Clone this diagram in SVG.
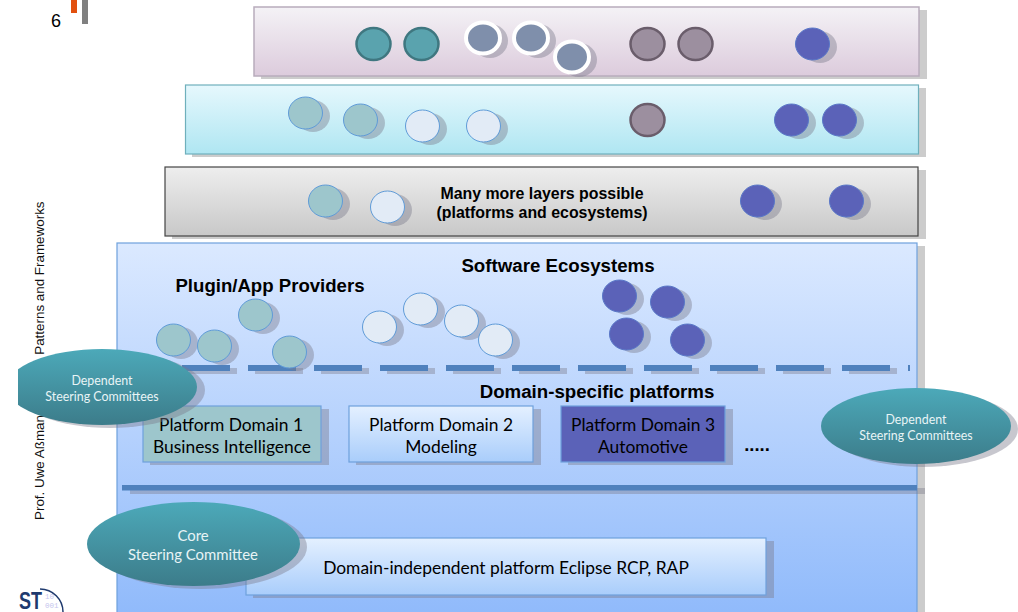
<svg xmlns="http://www.w3.org/2000/svg" width="1018" height="612" viewBox="0 0 1018 612">
<style>
.sh{fill:#7a7a8a;fill-opacity:.42}
ellipse.n{rx:17px;ry:16px}
.t{stroke:#3f7780;stroke-width:2.5;fill:#5aa3ae}
.w{stroke:#fff;stroke-width:4;fill:#7f8fab}
.g{stroke:#6a5d6b;stroke-width:2.5;fill:#9c8f9f}
.b{stroke:#5a78c8;stroke-width:1;fill:#5b62b8}
.lt{stroke:#5f9bd8;stroke-width:1;fill:#9dc6cc}
.lw{stroke:#5f9bd8;stroke-width:1;fill:#e2ebf6}
.h{font-family:"Liberation Sans",Arial,sans-serif;font-weight:bold;fill:#000;text-anchor:middle}
.c{font-family:Lato,"Open Sans",sans-serif;fill:#000;text-anchor:middle;font-size:17.4px}
.e{font-family:Lato,"Open Sans",sans-serif;fill:#e8f4f6;text-anchor:middle}
.d{fill:#4f81bd}
.ds{fill:#7a7a8a;fill-opacity:.4}
</style>
<defs>
<linearGradient id="g1" x1="0" y1="0" x2="0" y2="1"><stop offset="0" stop-color="#f4f2f6"/><stop offset="1" stop-color="#dccbdc"/></linearGradient>
<linearGradient id="g2" x1="0" y1="0" x2="0" y2="1"><stop offset="0" stop-color="#e6f8fd"/><stop offset="1" stop-color="#afe6f2"/></linearGradient>
<linearGradient id="g3" x1="0" y1="0" x2="0" y2="1"><stop offset="0" stop-color="#eeeeee"/><stop offset="1" stop-color="#c8c8c8"/></linearGradient>
<linearGradient id="g4" x1="0" y1="0" x2="0" y2="1"><stop offset="0" stop-color="#dbe9ff"/><stop offset="1" stop-color="#90bafb"/></linearGradient>
<linearGradient id="g5" x1="0" y1="0" x2="0" y2="1"><stop offset="0" stop-color="#e4f0ff"/><stop offset="1" stop-color="#a9cdfb"/></linearGradient>
<linearGradient id="g6" x1="0" y1="0" x2="0" y2="1"><stop offset="0" stop-color="#4ca9b9"/><stop offset="1" stop-color="#3c7c8a"/></linearGradient>
<clipPath id="cl"><rect x="18" y="330" width="220" height="110"/></clipPath>
<clipPath id="logo"><rect x="15" y="585" width="60" height="27"/></clipPath>
</defs>

<g id="page-furniture">
<text x="56" y="27" font-family="'Liberation Sans',Arial,sans-serif" font-size="18" text-anchor="middle">6</text>
<rect x="71" y="0" width="6" height="13" fill="#e2500f"/>
<rect x="82" y="0" width="6" height="24" fill="#808080"/>
<text transform="translate(44 520) rotate(-90)" font-family="'Liberation Sans',Arial,sans-serif" font-size="13.400" fill="#111">Prof. Uwe Aßmann, Design Patterns and Frameworks</text>
</g>

<g id="layer-1">
<rect x="261" y="10" width="666" height="69" fill="#ccc"/>
<rect x="254" y="7" width="665" height="69" fill="url(#g1)" stroke="#b8acbc" stroke-width="1.500"/>
</g>
<g id="layer-2">
<rect x="192" y="88" width="734" height="69" fill="#ccc"/>
<rect x="185.500" y="85" width="733" height="69" fill="url(#g2)" stroke="#6fb0bc" stroke-width="1.200"/>
</g>
<g id="layer-3">
<rect x="172" y="170" width="754" height="69" fill="#ccc"/>
<rect x="165" y="167" width="753" height="69" fill="url(#g3)" stroke="#444" stroke-width="1.200"/>
<text class="h" x="542" y="199" font-size="15.900">Many more layers possible</text>
<text class="h" x="542" y="218" font-size="15.900">(platforms and ecosystems)</text>
</g>
<g id="ecosystem">
<rect x="125" y="246" width="800" height="366" fill="#ccc"/>
<rect x="117" y="243" width="800" height="372" fill="url(#g4)" stroke="#6ea1dc" stroke-width="1.200"/>
<text class="h" x="558" y="272" font-size="18.700">Software Ecosystems</text>
<text class="h" x="270" y="292" font-size="18.600">Plugin/App Providers</text>
<text class="h" x="597" y="398" font-size="18.700">Domain-specific platforms</text>
<text class="h" x="757" y="451" font-size="18.500">.....</text>
</g>

<g id="connectors">
<path class="ds" d="M189 368h48v6h-48zM255 368h48v6h-48zM321 368h48v6h-48zM387 368h48v6h-48zM453 368h48v6h-48zM519 368h48v6h-48zM585 368h48v6h-48zM651 368h48v6h-48zM717 368h48v6h-48zM783 368h48v6h-48zM849 368h48v6h-48z"/>
<path class="d" d="M182 365h48v6h-48zM248 365h48v6h-48zM314 365h48v6h-48zM380 365h48v6h-48zM446 365h48v6h-48zM512 365h48v6h-48zM578 365h48v6h-48zM644 365h48v6h-48zM710 365h48v6h-48zM776 365h48v6h-48zM842 365h48v6h-48zM908 365h2v6h-2z"/>
<rect class="ds" x="130" y="488" width="795" height="6"/>
<rect class="d" x="122" y="485" width="795" height="5.500"/>
</g>

<g id="layer1-nodes">
<ellipse class="t n" cx="373.500" cy="44"/>
<ellipse class="t n" cx="421.500" cy="44"/>
<ellipse class="sh" cx="490" cy="41" rx="18" ry="17"/><ellipse class="w" cx="483" cy="38" rx="17" ry="15.500"/>
<ellipse class="sh" cx="538" cy="41" rx="18" ry="17"/><ellipse class="w" cx="531" cy="38" rx="17" ry="15.500"/>
<ellipse class="sh" cx="579" cy="60" rx="18" ry="17"/><ellipse class="w" cx="572" cy="57" rx="17" ry="15.500"/>
<ellipse class="g n" cx="647.500" cy="44"/>
<ellipse class="g n" cx="695.500" cy="44"/>
<ellipse class="sh n" cx="820" cy="47"/><ellipse class="b n" cx="812.500" cy="44"/>
</g>
<g id="layer2-nodes">
<ellipse class="sh n" cx="313" cy="116"/><ellipse class="lt n" cx="305.500" cy="113"/>
<ellipse class="sh n" cx="368" cy="123"/><ellipse class="lt n" cx="360.500" cy="120"/>
<ellipse class="sh n" cx="430" cy="129"/><ellipse class="lw n" cx="422.500" cy="126"/>
<ellipse class="sh n" cx="491" cy="129"/><ellipse class="lw n" cx="483.500" cy="126"/>
<ellipse class="g n" cx="647.500" cy="120"/>
<ellipse class="sh n" cx="799" cy="123"/><ellipse class="b n" cx="791.500" cy="120"/>
<ellipse class="sh n" cx="847" cy="123"/><ellipse class="b n" cx="839.500" cy="120"/>
</g>
<g id="layer3-nodes">
<ellipse class="sh n" cx="333" cy="204"/><ellipse class="lt n" cx="325.500" cy="201"/>
<ellipse class="sh n" cx="395" cy="210"/><ellipse class="lw n" cx="387.500" cy="207"/>
<ellipse class="sh n" cx="765" cy="204"/><ellipse class="b n" cx="757.500" cy="201"/>
<ellipse class="sh n" cx="854" cy="204"/><ellipse class="b n" cx="846.500" cy="201"/>
</g>
<g id="plugin-nodes">
<ellipse class="sh n" cx="181" cy="343"/><ellipse class="lt n" cx="173.500" cy="340"/>
<ellipse class="sh n" cx="222" cy="349"/><ellipse class="lt n" cx="214.500" cy="346"/>
<ellipse class="sh n" cx="263" cy="318"/><ellipse class="lt n" cx="255.500" cy="315"/>
<ellipse class="sh n" cx="297" cy="355"/><ellipse class="lt n" cx="289.500" cy="352"/>
<ellipse class="sh n" cx="387" cy="330"/><ellipse class="lw n" cx="379.500" cy="327"/>
<ellipse class="sh n" cx="428" cy="312"/><ellipse class="lw n" cx="420.500" cy="309"/>
<ellipse class="sh n" cx="469" cy="324"/><ellipse class="lw n" cx="461.500" cy="321"/>
<ellipse class="sh n" cx="503" cy="343"/><ellipse class="lw n" cx="495.500" cy="340"/>
<ellipse class="sh n" cx="627" cy="299"/><ellipse class="b n" cx="619.500" cy="296"/>
<ellipse class="sh n" cx="675" cy="305"/><ellipse class="b n" cx="667.500" cy="302"/>
<ellipse class="sh n" cx="634" cy="337"/><ellipse class="b n" cx="626.500" cy="334"/>
<ellipse class="sh n" cx="695" cy="343"/><ellipse class="b n" cx="687.500" cy="340"/>
</g>

<g id="platform-1">
<rect class="sh" x="150" y="409" width="179" height="56"/>
<rect x="143" y="406" width="178" height="56" fill="#9dc6cc" stroke="#6ea1dc" stroke-width="1.200"/>
<text class="c" x="231" y="431">Platform Domain 1</text>
<text class="c" x="232" y="453">Business Intelligence</text>
</g>
<g id="platform-2">
<rect class="sh" x="356" y="409" width="185" height="56"/>
<rect x="349" y="406" width="184" height="56" fill="url(#g5)" stroke="#6ea1dc" stroke-width="1.200"/>
<text class="c" x="441" y="431">Platform Domain 2</text>
<text class="c" x="441" y="453">Modeling</text>
</g>
<g id="platform-3">
<rect class="sh" x="568" y="409" width="165" height="56"/>
<rect x="561" y="406" width="164" height="56" fill="#5b62b8" stroke="#6ea1dc" stroke-width="1.200"/>
<text class="c" x="643" y="431">Platform Domain 3</text>
<text class="c" x="643" y="453">Automotive</text>
</g>
<g id="core-platform">
<rect class="sh" x="253" y="541" width="521" height="57"/>
<rect x="246" y="538" width="520" height="57" fill="url(#g5)" stroke="#6ea1dc" stroke-width="1.200"/>
<text class="c" x="506" y="574">Domain-independent platform Eclipse RCP, RAP</text>
</g>

<g id="dep-left">
<g clip-path="url(#cl)">
<ellipse class="sh" cx="110" cy="390" rx="95" ry="38"/>
<ellipse cx="102" cy="387" rx="95" ry="38" fill="url(#g6)"/>
</g>
<text class="e" x="102" y="385" font-size="12.400">Dependent</text>
<text class="e" x="102" y="401" font-size="12.400">Steering Committees</text>
</g>
<g id="dep-right">
<ellipse class="sh" cx="923" cy="429" rx="95" ry="38"/>
<ellipse cx="916" cy="426" rx="95" ry="38" fill="url(#g6)"/>
<text class="e" x="916" y="424" font-size="12.400">Dependent</text>
<text class="e" x="916" y="440" font-size="12.400">Steering Committees</text>
</g>
<g id="core-committee">
<ellipse class="sh" cx="201" cy="547" rx="106" ry="42"/>
<ellipse cx="193.500" cy="544" rx="106.500" ry="42" fill="url(#g6)"/>
<text class="e" x="193" y="541" font-size="14.900">Core</text>
<text class="e" x="193" y="560" font-size="14.900">Steering Committee</text>
</g>

<g id="logo-mark" clip-path="url(#logo)">
<path d="M40 589A23 23 0 0 1 63 612" fill="none" stroke="#1f3a6e" stroke-width="1.500"/>
<text x="45" y="599" font-family="'Liberation Mono',monospace" font-size="7.500" fill="#c5c5ee">10</text>
<text x="45" y="608" font-family="'Liberation Mono',monospace" font-size="7.500" fill="#c5c5ee">001</text>
<text x="19" y="609" font-family="'Liberation Sans',Arial,sans-serif" font-size="24" font-weight="bold" fill="#1f3a6e" textLength="23" lengthAdjust="spacingAndGlyphs">ST</text>
</g>
</svg>
